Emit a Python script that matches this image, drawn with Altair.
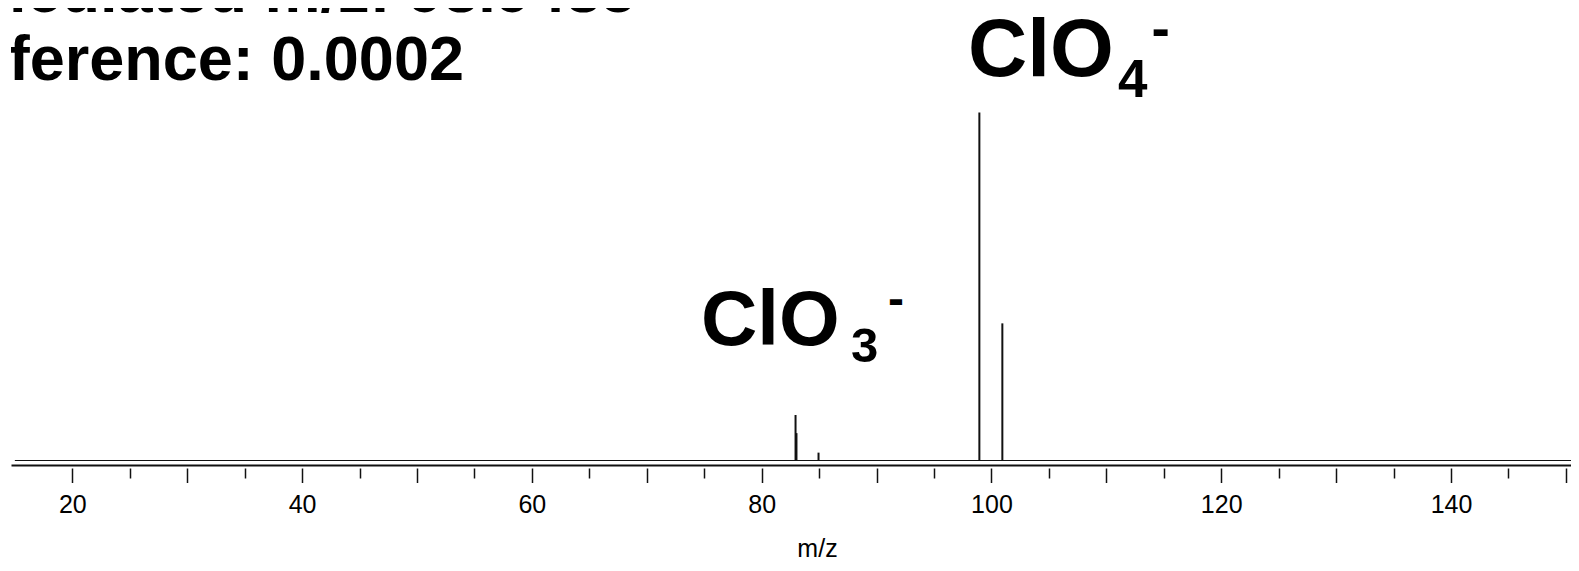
import altair as alt
import pandas as pd

# ---- data ----
peak_mz = [82.95, 83.03, 84.95, 98.95, 100.95]
peak_intensity = [13.2, 8.0, 2.4, 100.0, 39.5]
trace_start = [15.0]
trace_end = [160.0]
major_ticks = [20, 30, 40, 50, 60, 70, 80, 90, 100, 110, 120, 130, 140, 150]
minor_ticks = [25, 35, 45, 55, 65, 75, 85, 95, 105, 115, 125, 135, 145]
x_domain = [14.664, 150.445]
y_domain = [0, 130]

line1 = "Calculated m/z: 98.9485"
line2 = "Difference: 0.0002"

FONT = "Liberation Sans"
INK = "#111111"

xscale = alt.Scale(domain=x_domain, nice=False, zero=False)
yscale = alt.Scale(domain=y_domain, nice=False, zero=False)

base_df = pd.DataFrame({"start": trace_start, "end": trace_end, "level": [0.0]})
peaks_df = pd.DataFrame({"mz": peak_mz, "intensity": peak_intensity})

axis_domain = alt.Axis(
    orient="bottom",
    domain=True, domainColor=INK, domainWidth=2, ticks=False, labels=False,
    grid=False, offset=4, title="m/z", titleFont=FONT, titleFontSize=25,
    titleFontWeight="normal", titleColor="#000000", titleX=806, titleY=91,
    titleAlign="center", titleBaseline="alphabetic",
)
axis_major = alt.Axis(
    orient="bottom",
    values=major_ticks, domain=False, grid=False, offset=7, ticks=True,
    tickSize=14.5, tickWidth=1.5, tickColor=INK,
    labelExpr="datum.value % 20 === 0 ? datum.label : ''",
    labelFont=FONT, labelFontSize=25, labelColor="#000000", labelPadding=10,
    labelOverlap=False, labelFlush=False, labelBound=False, title=None,
)
axis_minor = alt.Axis(
    orient="bottom",
    values=minor_ticks, domain=False, grid=False, offset=7, ticks=True,
    tickSize=10, tickWidth=1.5, tickColor=INK, labels=False, title=None,
)

baseline = alt.Chart(base_df).mark_rule(color=INK, strokeWidth=2, clip=True).encode(
    x=alt.X("start:Q", scale=xscale, axis=axis_domain),
    x2="end:Q",
    y=alt.Y("level:Q", scale=yscale, axis=None),
)

peaks = alt.Chart(peaks_df).mark_rule(color=INK, strokeWidth=2, clip=True).encode(
    x=alt.X("mz:Q", scale=xscale, axis=axis_major),
    y=alt.Y("intensity:Q", scale=yscale, axis=None),
    y2=alt.datum(0),
)

minor = alt.Chart(peaks_df).mark_rule(opacity=0).encode(
    x=alt.X("mz:Q", scale=xscale, axis=axis_minor),
    y=alt.Y("intensity:Q", scale=yscale, axis=None),
)


def label(text, mz, level, size, align="left"):
    return alt.Chart(pd.DataFrame({"t": [text]})).mark_text(
        font=FONT, fontSize=size, fontWeight="bold", color="#000000",
        align=align, baseline="alphabetic", clip=True,
    ).encode(
        x=alt.XDatum(mz, scale=xscale, axis=None),
        y=alt.YDatum(level, scale=yscale, axis=None),
        text="t:N",
    )


texts = [
    label(line1, 69.05, 128.85, 63, "right"),
    label(line2, 54.09, 109.34, 63, "right"),
    label("ClO", 97.96, 110.5, 82),
    label("4", 111.02, 104.46, 53),
    label("-", 113.93, 118.87, 55),
    label("ClO", 74.72, 33.29, 78),
    label("3", 87.78, 28.41, 49),
    label("-", 90.99, 41.76, 48),
]

chart = (
    alt.layer(baseline, peaks, minor, *texts)
    .resolve_axis(x="independent")
    .properties(
        width=1560, height=453,
        padding={"left": 3, "top": 0, "right": 0, "bottom": 100},
        autosize=alt.AutoSizeParams(type="none"),
        background="white",
    )
    .configure_view(stroke=None)
)

chart.save("out.html", embed_options={"renderer": "svg", "actions": False})
